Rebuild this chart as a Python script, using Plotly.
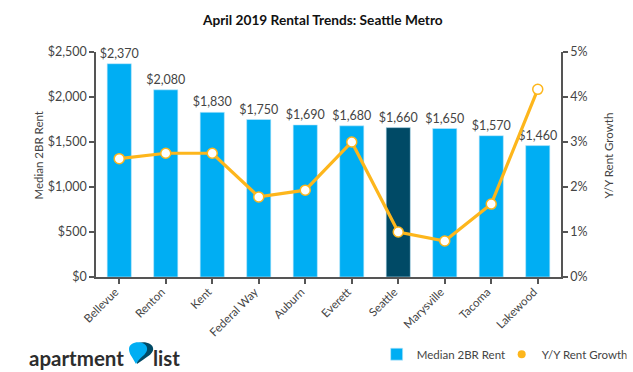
import plotly.graph_objects as go

cities = ["Bellevue", "Renton", "Kent", "Federal Way", "Auburn", "Everett", "Seattle", "Marysville", "Tacoma", "Lakewood"]
rent = [2370, 2080, 1830, 1750, 1690, 1680, 1660, 1650, 1570, 1460]
growth = [2.63, 2.75, 2.75, 1.78, 1.93, 3.0, 1.0, 0.8, 1.62, 4.17]
rent_labels = ["$2,370", "$2,080", "$1,830", "$1,750", "$1,690", "$1,680", "$1,660", "$1,650", "$1,570", "$1,460"]
bar_colors = ["#00aef3"] * 6 + ["#004a66"] + ["#00aef3"] * 3

FONT = "Lato"
TEXT = "#444444"
AXIS = "#555555"
AMBER = "#fdb61c"

fig = go.Figure()
fig.add_trace(go.Bar(
    x=cities, y=rent, name="Median 2BR Rent", width=0.52,
    marker=dict(color=bar_colors, line=dict(color="#c4e9fa", width=0.6)),
    text=rent_labels, textposition="outside", cliponaxis=False, constraintext="none",
    textfont=dict(size=12.5, color=TEXT, family=FONT),
))
fig.add_trace(go.Scatter(
    x=cities, y=growth, yaxis="y2", mode="lines+markers", showlegend=False,
    line=dict(color=AMBER, width=3.2),
    marker=dict(size=10, color="white", line=dict(color=AMBER, width=1.5)),
    cliponaxis=False,
))
fig.add_trace(go.Scatter(
    x=[None], y=[None], yaxis="y2", mode="markers", name="Y/Y Rent Growth",
    marker=dict(size=8, color=AMBER),
))

axis_common = dict(showline=True, linecolor=AXIS, linewidth=1.5, ticks="outside",
                   tickcolor=AXIS, ticklen=5, tickwidth=1.5, showgrid=False, zeroline=False,
                   automargin=False)

fig.update_layout(
    width=633, height=372, autosize=False,
    margin=dict(l=96, r=72, t=52, b=95, autoexpand=False),
    paper_bgcolor="white", plot_bgcolor="white",
    font=dict(family=FONT, color=TEXT),
    title=dict(text="<b>April 2019 Rental Trends: Seattle Metro</b>", x=0.51, xanchor="center",
               y=0.945, yanchor="middle", font=dict(size=13.7, color="#111111", family=FONT)),
    xaxis=dict(**axis_common, range=[-0.5, 9.5], tickangle=-45, tickfont=dict(size=11.5, color=TEXT),
               ticklabelshift=-4, ticklabelstandoff=-3),
    yaxis=dict(**axis_common, range=[0, 2500], tickvals=[0, 500, 1000, 1500, 2000, 2500],
               ticktext=["$0", "$500", "$1,000", "$1,500", "$2,000", "$2,500"],
               tickfont=dict(size=12.5, color=TEXT)),
    yaxis2=dict(**axis_common, overlaying="y", side="right", range=[0, 5],
                tickvals=[0, 1, 2, 3, 4, 5], ticktext=["0%", "1%", "2%", "3%", "4%", "5%"],
                tickfont=dict(size=12.5, color=TEXT)),
    legend=dict(orientation="h", x=0.99, xanchor="right", xref="container", y=0.048, yanchor="middle",
                yref="container", font=dict(size=11.5, color=TEXT), bgcolor="rgba(0,0,0,0)",
                itemwidth=30, traceorder="normal", entrywidth=80),
    bargap=0.48,
    annotations=[
        dict(text="Median 2BR Rent", xref="paper", yref="paper", x=-0.1247, y=0.54, textangle=-90,
             xanchor="center", yanchor="middle", showarrow=False, font=dict(size=11.5, color=TEXT)),
        dict(text="Y/Y Rent Growth", xref="paper", yref="paper", x=1.1011, y=0.54, textangle=-90,
             xanchor="center", yanchor="middle", showarrow=False, font=dict(size=11.5, color=TEXT)),
        dict(text="<b>apartment</b>", xref="paper", yref="paper", x=-0.148, y=-0.36, xanchor="left",
             yanchor="middle", showarrow=False, font=dict(size=20.5, color="#2d2d2d", family=FONT)),
        dict(text="<b>list</b>", xref="paper", yref="paper", x=0.119, y=-0.36, xanchor="left",
             yanchor="middle", showarrow=False, font=dict(size=20.5, color="#2d2d2d", family=FONT)),
    ],
    shapes=[
        dict(type="path", xref="paper", yref="paper",
             path="M 0.088 -0.387 C 0.105 -0.36, 0.123 -0.345, 0.123 -0.32 C 0.123 -0.295, 0.105 -0.285, 0.092 -0.293 Z",
             fillcolor="#004a66", line=dict(width=0)),
        dict(type="path", xref="paper", yref="paper",
             path="M 0.086 -0.387 C 0.08 -0.36, 0.071 -0.345, 0.071 -0.32 C 0.071 -0.28, 0.110 -0.28, 0.110 -0.32 C 0.110 -0.345, 0.092 -0.36, 0.086 -0.387 Z",
             fillcolor="#00aef3", line=dict(width=0)),
    ],
)
fig.write_html("out.html", config=dict(displayModeBar=False),
               post_script="document.body.style.margin='0';document.body.style.overflow='hidden';")
